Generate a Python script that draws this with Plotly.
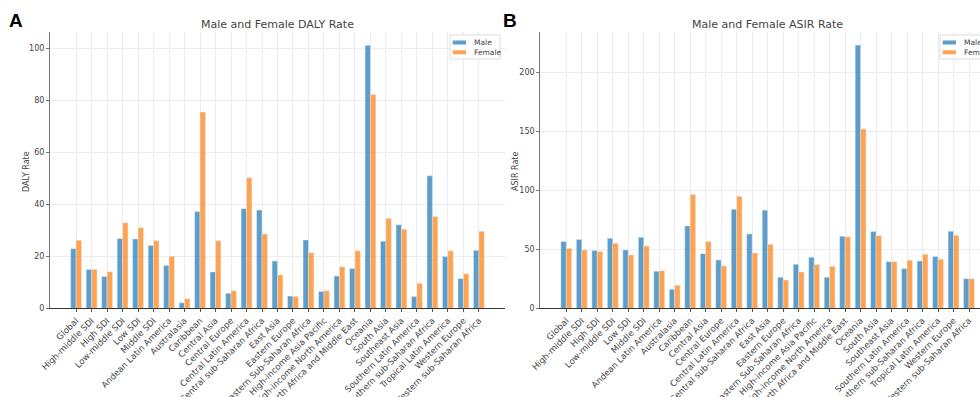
import plotly.graph_objects as go

categories = ["Global", "High-middle SDI", "High SDI", "Low-middle SDI", "Low SDI", "Middle SDI",
              "Andean Latin America", "Australasia", "Caribbean", "Central Asia", "Central Europe",
              "Central Latin America", "Central sub-Saharan Africa", "East Asia", "Eastern Europe",
              "Eastern Sub-Saharan Africa", "High-income Asia Pacific", "High-income North America",
              "North Africa and Middle East", "Oceania", "South Asia", "Southeast Asia",
              "Southern Latin America", "Southern sub-Saharan Africa", "Tropical Latin America",
              "Western Europe", "Western sub-Saharan Africa"]

daly_male = [22.9, 14.9, 12.2, 26.9, 26.7, 24.2, 16.5, 2.1, 37.2, 14.0, 5.8, 38.3, 37.8, 18.2, 4.7,
             26.3, 6.5, 12.4, 15.3, 101.2, 25.8, 32.1, 4.5, 51.0, 19.9, 11.4, 22.3]
daly_female = [26.2, 14.9, 14.1, 32.9, 31.0, 26.0, 20.0, 3.7, 75.5, 26.0, 6.8, 50.2, 28.6, 12.9, 4.5,
               21.4, 6.8, 16.0, 22.1, 82.3, 34.6, 30.4, 9.6, 35.3, 22.1, 13.3, 29.6]

asir_male = [56.5, 58.2, 48.9, 59.3, 49.4, 60.2, 31.4, 16.1, 69.8, 46.3, 41.0, 83.9, 63.0, 83.1, 26.3,
             37.3, 43.2, 26.3, 61.0, 222.9, 65.0, 39.5, 33.6, 40.1, 43.8, 65.3, 25.1]
asir_female = [50.8, 49.4, 48.0, 55.1, 45.2, 52.8, 31.9, 19.5, 96.3, 56.5, 35.9, 94.9, 46.9, 54.2, 24.0,
               30.8, 37.0, 35.6, 60.5, 151.9, 61.6, 39.5, 40.7, 45.8, 41.5, 61.9, 25.1]

series_names = ["Male", "Female"]
daly_ticks = [0, 20, 40, 60, 80, 100]
asir_ticks = [0, 50, 100, 150, 200]

MALE_C = "rgba(31,119,180,0.72)"
FEMALE_C = "rgba(255,127,14,0.72)"
W, H = 980, 397
FONT = "DejaVu Sans"

fig = go.Figure()
fig.add_trace(go.Bar(x=categories, y=daly_male, name=series_names[0], marker_color=MALE_C,
                     xaxis="x", yaxis="y"))
fig.add_trace(go.Bar(x=categories, y=daly_female, name=series_names[1], marker_color=FEMALE_C,
                     xaxis="x", yaxis="y"))
fig.add_trace(go.Bar(x=categories, y=asir_male, name=series_names[0], marker_color=MALE_C,
                     xaxis="x2", yaxis="y2"))
fig.add_trace(go.Bar(x=categories, y=asir_female, name=series_names[1], marker_color=FEMALE_C,
                     xaxis="x2", yaxis="y2"))

ytop = 1 - 32 / H
ybot = 1 - 308.3 / H

xcommon = dict(type="category", tickangle=-45, showgrid=True, gridcolor="#ececec", gridwidth=1,
               showline=True, linecolor="#333", linewidth=1, ticks="outside", ticklen=3,
               tickcolor="#555", tickfont=dict(family=FONT, size=8.6, color="#444"),
               zeroline=False)
ycommon = dict(showgrid=True, gridcolor="#ececec", gridwidth=1, showline=True, linecolor="#777",
               linewidth=1, ticks="outside", ticklen=3, tickcolor="#777",
               tickfont=dict(family=FONT, size=8, color="#444"), zeroline=False)


def px(x):
    return x / W


def py(y):
    return 1 - y / H


shapes = []
annotations = []

# manual legends (matplotlib-style compact boxes)
for lx in (450, 940):
    shapes.append(dict(type="rect", xref="paper", yref="paper", x0=px(lx), x1=px(lx + 50),
                       y0=py(59), y1=py(35), fillcolor="white", line=dict(color="#dddddd", width=1),
                       layer="above"))
    for i, (nm, col) in enumerate(zip(series_names, [MALE_C, FEMALE_C])):
        yc = 42.5 + i * 9.8
        shapes.append(dict(type="rect", xref="paper", yref="paper", x0=px(lx + 2.7), x1=px(lx + 16),
                           y0=py(yc + 2), y1=py(yc - 2), fillcolor=col, line=dict(width=0),
                           layer="above"))
        annotations.append(dict(text=nm, x=px(lx + 21.5), y=py(yc), xref="paper", yref="paper",
                                showarrow=False, xanchor="left", yanchor="middle",
                                font=dict(family=FONT, size=7.5, color="#444")))

annotations += [
    dict(text="Male and Female DALY Rate", x=px(277.5), y=py(24), xref="paper", yref="paper",
         showarrow=False, font=dict(family=FONT, size=11, color="#444"), xanchor="center", yanchor="middle"),
    dict(text="Male and Female ASIR Rate", x=px(767.5), y=py(24), xref="paper", yref="paper",
         showarrow=False, font=dict(family=FONT, size=11, color="#444"), xanchor="center", yanchor="middle"),
    dict(text="DALY Rate", x=px(26), y=py(172), xref="paper", yref="paper", textangle=-90,
         showarrow=False, font=dict(family=FONT, size=8, color="#444"), xanchor="center", yanchor="middle"),
    dict(text="ASIR Rate", x=px(515), y=py(172), xref="paper", yref="paper", textangle=-90,
         showarrow=False, font=dict(family=FONT, size=8, color="#444"), xanchor="center", yanchor="middle"),
    dict(text="<b>A</b>", x=px(16), y=py(20), xref="paper", yref="paper",
         showarrow=False, font=dict(family="Liberation Sans", size=19, color="black"), xanchor="center", yanchor="middle"),
    dict(text="<b>B</b>", x=px(510), y=py(20), xref="paper", yref="paper",
         showarrow=False, font=dict(family="Liberation Sans", size=19, color="black"), xanchor="center", yanchor="middle"),
]

fig.update_layout(
    width=W, height=H,
    margin=dict(l=0, r=0, t=0, b=0, autoexpand=False),
    paper_bgcolor="white", plot_bgcolor="white",
    barmode="group", bargap=0.3, bargroupgap=0,
    showlegend=False,
    xaxis=dict(domain=[px(50), px(505)], range=[-1.685, 27.685], anchor="y", **xcommon),
    yaxis=dict(domain=[ybot, ytop], range=[0, 106.3], tickvals=daly_ticks, anchor="x", **ycommon),
    xaxis2=dict(domain=[px(540.2), 1.0], range=[-1.685, 26.71], anchor="y2", **xcommon),
    yaxis2=dict(domain=[ybot, ytop], range=[0, 234], tickvals=asir_ticks, anchor="x2", **ycommon),
    shapes=shapes,
    annotations=annotations,
)

fig.write_html("out.html", config={"displayModeBar": False},
               post_script="document.body.style.margin='0';document.body.style.overflow='hidden';")
